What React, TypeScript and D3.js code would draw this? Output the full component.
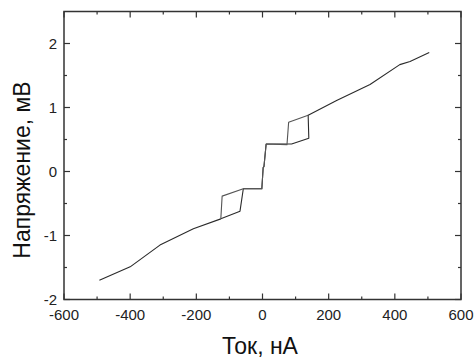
import React from "react";
import * as d3 from "d3";

// Forward sweep (increasing current), nA / mV
const fwdCurrent = [-493, -400, -310, -209, -126, -68, -58, -2, 2, 4.5, 11, 88, 140, 138, 224, 325, 415, 446, 504];
const fwdVoltage = [-1.70, -1.49, -1.15, -0.895, -0.74, -0.62, -0.27, -0.27, 0.06, 0.08, 0.43, 0.43, 0.52, 0.88, 1.11, 1.36, 1.67, 1.72, 1.86];
// Reverse sweep (decreasing current) through the hysteresis loops
const revCurrent = [138, 79, 74, 11, 4.5, 2, -2, -58, -122, -126];
const revVoltage = [0.88, 0.77, 0.42, 0.43, 0.08, 0.06, -0.27, -0.27, -0.385, -0.74];

const xMajor = [-600, -400, -200, 0, 200, 400, 600];
const xMinor = [-500, -300, -100, 100, 300, 500];
const yMajor = [-2, -1, 0, 1, 2];
const yMinor = [-1.5, -0.5, 0.5, 1.5];

const xTitle = "Ток, нА";
const yTitle = "Напряжение, мВ";

export default function App() {
  const W = 476, H = 358;
  const left = 64, right = 461, top = 11.5, bottom = 299.5;
  const x = d3.scaleLinear().domain([-600, 600]).range([left, right]);
  const y = d3.scaleLinear().domain([-2, 2.5]).range([bottom, top]);
  const line = d3.line<[number, number]>().x((d) => x(d[0])).y((d) => y(d[1]));
  const fwd = fwdCurrent.map((c, i) => [c, fwdVoltage[i]] as [number, number]);
  const rev = revCurrent.map((c, i) => [c, revVoltage[i]] as [number, number]);
  const font = "'Liberation Sans', Arial, sans-serif";
  const axisColor = "#333";
  const maj = 6, mnr = 3;

  return (
    <svg width={W} height={H} style={{ position: "absolute", left: 0, top: 0 }} fontFamily={font}>
      <rect width={W} height={H} fill="#fff" />
      {/* ticks */}
      <g stroke={axisColor} strokeWidth={1.2}>
        {xMajor.map((t) => (
          <g key={"xm" + t}>
            <line x1={x(t)} x2={x(t)} y1={bottom} y2={bottom - maj} />
            <line x1={x(t)} x2={x(t)} y1={top} y2={top + maj} />
          </g>
        ))}
        {xMinor.map((t) => (
          <g key={"xn" + t}>
            <line x1={x(t)} x2={x(t)} y1={bottom} y2={bottom - mnr} />
            <line x1={x(t)} x2={x(t)} y1={top} y2={top + mnr} />
          </g>
        ))}
        {yMajor.map((t) => (
          <g key={"ym" + t}>
            <line x1={left} x2={left + maj} y1={y(t)} y2={y(t)} />
            <line x1={right} x2={right - maj} y1={y(t)} y2={y(t)} />
          </g>
        ))}
        {yMinor.map((t) => (
          <g key={"yn" + t}>
            <line x1={left} x2={left + mnr} y1={y(t)} y2={y(t)} />
            <line x1={right} x2={right - mnr} y1={y(t)} y2={y(t)} />
          </g>
        ))}
      </g>
      <rect x={left} y={top} width={right - left} height={bottom - top} fill="none" stroke={axisColor} strokeWidth={1.5} />
      {/* data */}
      <path d={line(fwd) || ""} fill="none" stroke="#2a2a2a" strokeWidth={1.1} strokeLinejoin="round" />
      <path d={line(rev) || ""} fill="none" stroke="#555" strokeWidth={1.1} strokeLinejoin="round" />
      {/* tick labels */}
      <g fontSize={15} fill="#222">
        {xMajor.map((t) => (
          <text key={"xl" + t} x={x(t)} y={320} textAnchor="middle">{t}</text>
        ))}
        {yMajor.map((t) => (
          <text key={"yl" + t} x={57} y={y(t) + 5.5} textAnchor="end">{t}</text>
        ))}
      </g>
      <text x={260} y={354} textAnchor="middle" fontSize={23} fill="#111">{xTitle}</text>
      <text transform={`translate(30,170) rotate(-90)`} textAnchor="middle" fontSize={23} fill="#111">{yTitle}</text>
    </svg>
  );
}
